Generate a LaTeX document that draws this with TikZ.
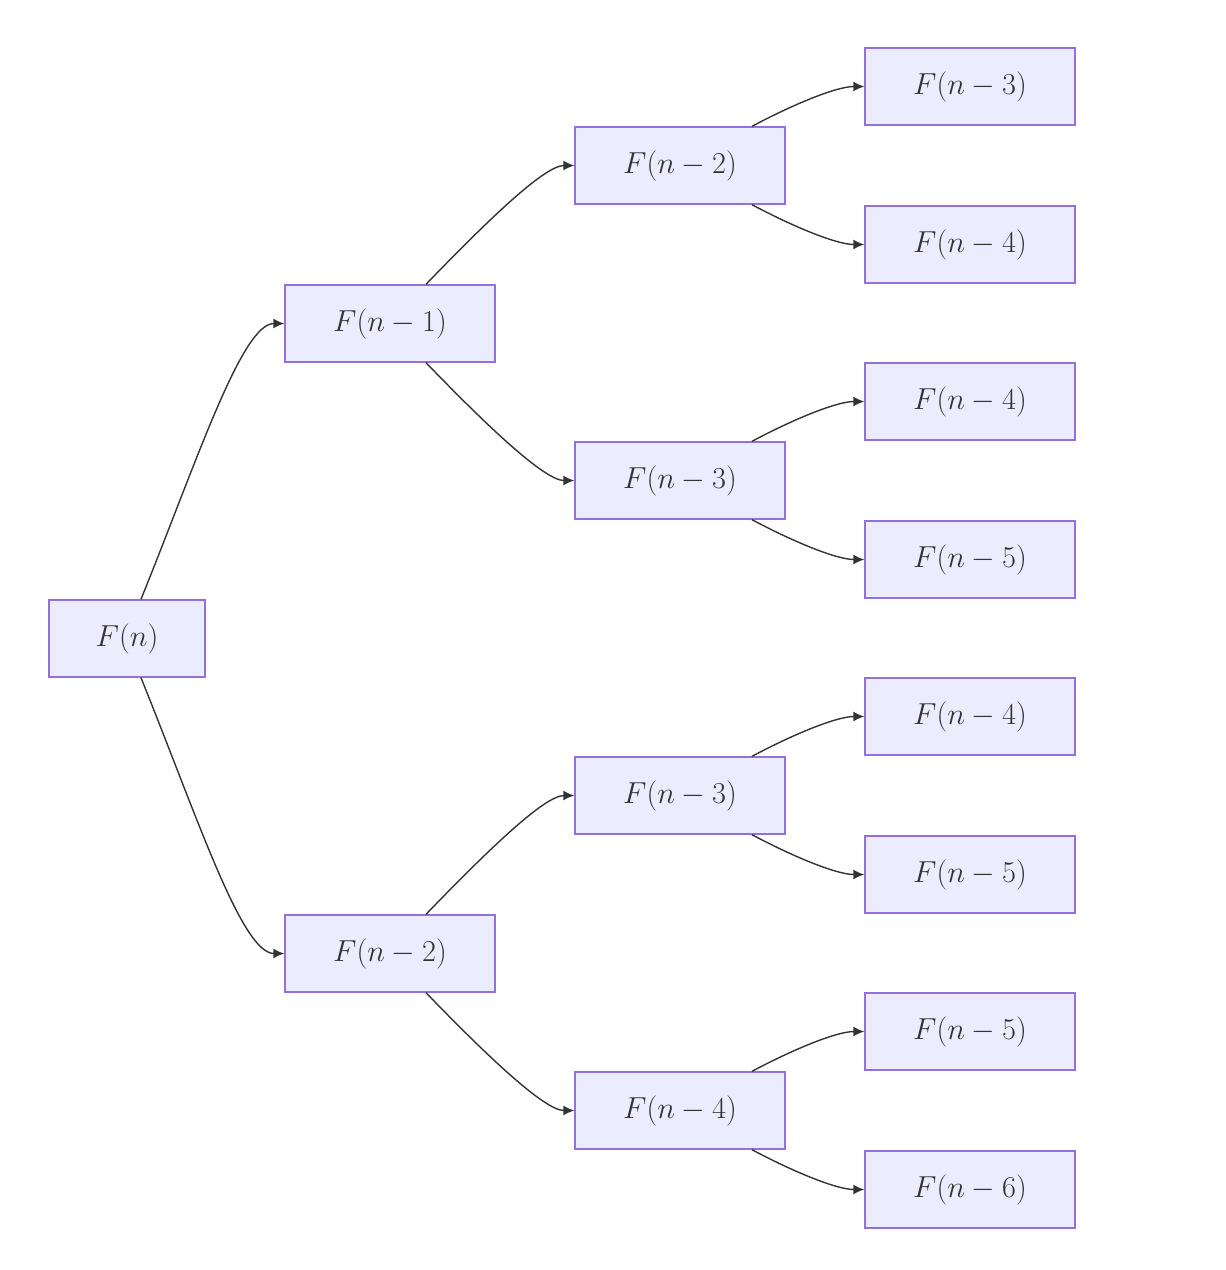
\documentclass[tikz,border=0pt]{standalone}
\usepackage{graphicx}
\usetikzlibrary{arrows.meta}
\definecolor{nodefill}{HTML}{ECECFF}
\definecolor{nodeline}{HTML}{9370DB}
\definecolor{edgecol}{HTML}{333333}
\newcommand\flbl[1]{\scalebox{1.22}{$#1$}}
\begin{document}
\begin{tikzpicture}[x=1pt,y=-1pt,
  fbox/.style={draw=nodeline,fill=nodefill,line width=1.4pt,minimum height=77pt,inner sep=0pt,
    text=edgecol,font=\fontsize{24.88}{30}\selectfont},
  wbox/.style={fbox,minimum width=210pt},
  edge/.style={draw=edgecol,line width=1.4pt,-{Latex[length=11pt,width=10pt]}}]
\useasboundingbox (0,0) rectangle (1226,1270);
\node[fbox,minimum width=156pt] (n) at (127,638.5) {\flbl{F(n)}};
\node[wbox] (a) at (390,323.5) {\flbl{F(n-1)}};
\node[wbox] (b) at (390,953.5) {\flbl{F(n-2)}};
\node[wbox] (aa) at (680,165.5) {\flbl{F(n-2)}};
\node[wbox] (ab) at (680,480.5) {\flbl{F(n-3)}};
\node[wbox] (ba) at (680,795.5) {\flbl{F(n-3)}};
\node[wbox] (bb) at (680,1110.5) {\flbl{F(n-4)}};
\node[wbox] (aaa) at (970,86.5) {\flbl{F(n-3)}};
\node[wbox] (aab) at (970,244.5) {\flbl{F(n-4)}};
\node[wbox] (aba) at (970,401.5) {\flbl{F(n-4)}};
\node[wbox] (abb) at (970,559.5) {\flbl{F(n-5)}};
\node[wbox] (baa) at (970,716.5) {\flbl{F(n-4)}};
\node[wbox] (bab) at (970,874.5) {\flbl{F(n-5)}};
\node[wbox] (bba) at (970,1031.5) {\flbl{F(n-5)}};
\node[wbox] (bbb) at (970,1189.5) {\flbl{F(n-6)}};
% level 0 -> 1
\draw[edge] ([xshift=14pt]n.north) to[out=68,in=180,out looseness=1.25,in looseness=0.35] (a.west);
\draw[edge] ([xshift=14pt]n.south) to[out=-68,in=180,out looseness=1.25,in looseness=0.35] (b.west);
% level 1 -> 2
\foreach \p/\c/\d in {a/aa/ab,b/ba/bb}{
  \draw[edge] ([xshift=36pt]\p.north) to[out=46,in=180,out looseness=1.2,in looseness=0.4] (\c.west);
  \draw[edge] ([xshift=36pt]\p.south) to[out=-46,in=180,out looseness=1.2,in looseness=0.4] (\d.west);
}
% level 2 -> 3
\foreach \p/\c/\d in {aa/aaa/aab,ab/aba/abb,ba/baa/bab,bb/bba/bbb}{
  \draw[edge] ([xshift=72pt]\p.north) to[out=28,in=180,out looseness=1,in looseness=0.6] (\c.west);
  \draw[edge] ([xshift=72pt]\p.south) to[out=-28,in=180,out looseness=1,in looseness=0.6] (\d.west);
}
\end{tikzpicture}
\end{document}
